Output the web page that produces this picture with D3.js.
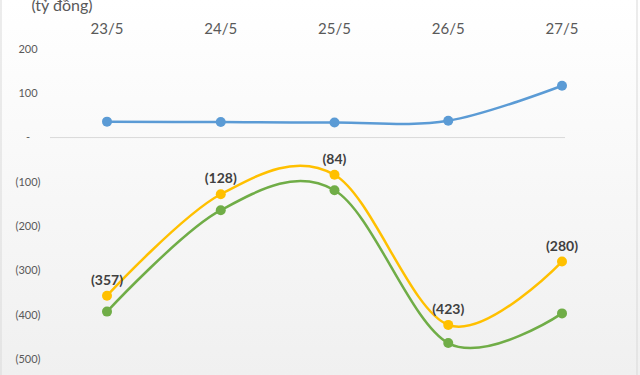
<html>
<head>
    <script src="https://cdnjs.cloudflare.com/ajax/libs/d3/7.8.5/d3.min.js"></script>
    <style>
        body { margin: 0; }
        text { font-family: Lato, 'Open Sans', sans-serif; }
    </style>
</head>
<body>
<script>
    const categories = ['23/5', '24/5', '25/5', '26/5', '27/5'];
    const blueValues = [36, 35, 34, 38, 117];
    const yellowValues = [-357, -128, -84, -423, -280];
    const greenValues = [-393, -164, -119, -464, -397];
    const yTicks = [200, 100, 0, -100, -200, -300, -400, -500];

    const width = 640, height = 375;

    const svg = d3.select('body').append('svg')
        .attr('width', width)
        .attr('height', height);

    // soft background gradient like the Excel chart area
    const grad = svg.append('defs').append('linearGradient')
        .attr('id', 'bg').attr('x1', 0).attr('y1', 0).attr('x2', 0).attr('y2', 1);
    grad.append('stop').attr('offset', '0%').attr('stop-color', '#ffffff');
    grad.append('stop').attr('offset', '100%').attr('stop-color', '#f0f0f0');

    svg.append('rect')
        .attr('x', 0).attr('y', 0).attr('width', width).attr('height', height)
        .attr('fill', 'url(#bg)');
    svg.append('line').attr('x1', 1).attr('x2', 1).attr('y1', 0).attr('y2', height)
        .attr('stroke', '#d9d9d9');
    svg.append('line').attr('x1', 637).attr('x2', 637).attr('y1', 0).attr('y2', height)
        .attr('stroke', '#d9d9d9');

    const x = d3.scalePoint().domain(categories).range([107, 562]);
    const y = d3.scaleLinear().domain([-500, 200]).range([359, 49]);

    // unit title
    svg.append('text')
        .attr('x', 62).attr('y', 11)
        .attr('text-anchor', 'middle')
        .attr('font-size', 16)
        .attr('fill', '#595959')
        .text('(tỷ đồng)');

    // category labels on top
    svg.selectAll('.cat')
        .data(categories)
        .enter().append('text')
        .attr('class', 'cat')
        .attr('x', d => x(d))
        .attr('y', 34)
        .attr('text-anchor', 'middle')
        .attr('font-size', 15)
        .attr('fill', '#595959')
        .text(d => d);

    // y tick labels (accounting style)
    const fmt = v => v === 0 ? '-' : (v < 0 ? `(${-v})` : `${v}`);
    svg.selectAll('.tick')
        .data(yTicks)
        .enter().append('text')
        .attr('class', 'tick')
        .attr('x', 28)
        .attr('y', d => y(d))
        .attr('dy', '0.35em')
        .attr('text-anchor', 'middle')
        .attr('font-size', 11)
        .attr('fill', '#595959')
        .text(fmt);

    // zero line
    svg.append('line')
        .attr('x1', 50).attr('x2', 565)
        .attr('y1', y(0)).attr('y2', y(0))
        .attr('stroke', '#d9d9d9')
        .attr('stroke-width', 1);

    const line = d3.line()
        .x((d, i) => x(categories[i]))
        .y(d => y(d))
        .curve(d3.curveCardinal.tension(0));

    const series = [
        { values: blueValues, color: '#5b9bd5' },
        { values: greenValues, color: '#70ad47' },
        { values: yellowValues, color: '#ffc000' }
    ];

    series.forEach(s => {
        svg.append('path')
            .datum(s.values)
            .attr('d', line)
            .attr('fill', 'none')
            .attr('stroke', s.color)
            .attr('stroke-width', 2.5);

        svg.selectAll(null)
            .data(s.values)
            .enter().append('circle')
            .attr('cx', (d, i) => x(categories[i]))
            .attr('cy', d => y(d))
            .attr('r', 5)
            .attr('fill', s.color);
    });

    // data labels on the yellow series
    svg.selectAll('.lbl')
        .data(yellowValues)
        .enter().append('text')
        .attr('class', 'lbl')
        .attr('x', (d, i) => x(categories[i]))
        .attr('y', d => y(d) - 11)
        .attr('text-anchor', 'middle')
        .attr('font-size', 14)
        .attr('font-weight', 'bold')
        .attr('fill', '#404040')
        .text(fmt);
</script>
</body>
</html>
